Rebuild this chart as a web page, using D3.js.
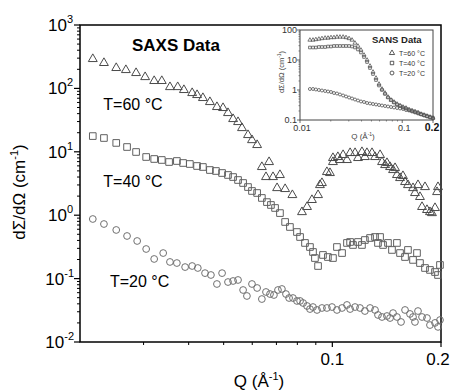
<!DOCTYPE html>
<html>
<head>
<meta charset="utf-8">
<script src="https://cdn.jsdelivr.net/npm/d3@7"></script>
<style>
  body { margin: 0; background: #fff; }
  svg { display: block; font-family: "Liberation Sans", Arial, sans-serif; }
</style>
</head>
<body>
<svg id="chart" width="452" height="390"></svg>
<script>
// SAXS data: [Q (1/A), dSigma/dOmega (1/cm)]
const saxs60 = [
  [0.0217,291],[0.0233,252],[0.0252,210],[0.0268,195],[0.0286,175],[0.0303,151],[0.0321,131],[0.0337,131],
  [0.0355,105],[0.0373,105],[0.0388,94.4],[0.0409,84.6],[0.0422,78.7],[0.0438,70.6],[0.0458,61.0],[0.0479,50.9],
  [0.0498,49.1],[0.0514,40.9],[0.0531,32.9],[0.0548,29.5],[0.0562,23.7],[0.0584,18.4],[0.0599,15.3],[0.0619,12.8],
  [0.0638,5.76],[0.0668,6.90],[0.0655,4.00],[0.0685,4.00],[0.0716,4.31],[0.0703,2.68],[0.0740,2.59],[0.0775,2.08],
  [0.0824,1.12],[0.0851,1.35],[0.0878,1.74],[0.0913,2.08],[0.0924,2.99],[0.0936,3.22],[0.0966,4.80],[0.0985,4.63],
  [0.1004,6.90],[0.1004,7.99],[0.1036,8.28],[0.1050,7.43],[0.1071,8.91],[0.1098,7.43],[0.1120,9.58],[0.1156,9.58],
  [0.1178,7.99],[0.1208,9.93],[0.1231,8.28],[0.1247,9.58],[0.1288,9.58],[0.1313,8.28],[0.1356,8.91],[0.1373,6.90],
  [0.1400,6.19],[0.1417,6.66],[0.1445,5.76],[0.1473,5.16],[0.1492,5.55],[0.1510,4.31],[0.1540,3.86],[0.1569,4.15],
  [0.1590,3.34],[0.1620,2.99],[0.1673,2.68],[0.1694,2.24],[0.1727,2.99],[0.1749,1.94],[0.1772,1.35],[0.1806,2.78],
  [0.1829,1.21],[0.1864,1.12],[0.1888,1.08],[0.1925,1.30],[0.1950,2.32],[0.1962,2.78]
];
const saxs40 = [
  [0.0217,17.7],[0.0233,16.5],[0.0252,13.8],[0.0270,11.9],[0.0286,9.93],[0.0305,8.28],[0.0321,7.70],[0.0337,7.43],
  [0.0353,6.90],[0.0371,7.16],[0.0386,6.66],[0.0403,6.42],[0.0422,5.97],[0.0438,5.76],[0.0458,5.16],[0.0476,4.98],
  [0.0495,4.63],[0.0514,4.31],[0.0531,4.00],[0.0548,3.59],[0.0566,3.22],[0.0584,2.78],[0.0599,2.41],[0.0619,2.24],
  [0.0638,1.87],[0.0659,1.61],[0.0676,1.45],[0.0694,1.30],[0.0716,1.08],[0.0740,0.782],[0.0763,0.652],[0.0798,0.543],
  [0.0814,0.453],[0.0840,0.365],[0.0867,0.315],[0.0884,0.263],[0.0895,0.211],[0.0913,0.158],[0.0942,0.236],[0.0972,0.219],
  [0.1004,0.211],[0.1030,0.315],[0.1064,0.253],[0.1098,0.365],[0.1120,0.378],[0.1141,0.339],[0.1178,0.378],[0.1208,0.339],
  [0.1231,0.406],[0.1272,0.437],[0.1313,0.453],[0.1338,0.365],[0.1356,0.453],[0.1382,0.339],[0.1426,0.365],[0.1463,0.283],
  [0.1510,0.365],[0.1540,0.253],[0.1590,0.219],[0.1620,0.283],[0.1673,0.197],[0.1716,0.253],[0.1749,0.176],[0.1806,0.147],
  [0.1864,0.137],[0.1925,0.127],[0.1962,0.114],[0.1987,0.164]
];
const saxs20 = [
  [0.0217,0.871],[0.0233,0.726],[0.0252,0.585],[0.0270,0.470],[0.0288,0.392],[0.0305,0.293],[0.0321,0.204],[0.0340,0.253],
  [0.0355,0.183],[0.0371,0.176],[0.0391,0.152],[0.0409,0.158],[0.0424,0.147],[0.0444,0.122],[0.0461,0.114],[0.0479,0.0822],
  [0.0495,0.122],[0.0514,0.0883],[0.0531,0.0917],[0.0548,0.0951],[0.0566,0.0661],[0.0580,0.0532],[0.0599,0.0822],[0.0619,0.0711],
  [0.0638,0.0476],[0.0655,0.0615],[0.0672,0.0571],[0.0689,0.0551],[0.0707,0.0661],[0.0725,0.0686],[0.0744,0.0571],[0.0759,0.0494],
  [0.0778,0.0494],[0.0798,0.0444],[0.0814,0.0444],[0.0830,0.0412],[0.0851,0.0370],[0.0867,0.0331],[0.0884,0.0356],[0.0907,0.0320],
  [0.0936,0.0344],[0.0966,0.0344],[0.0998,0.0356],[0.1030,0.0320],[0.1064,0.0344],[0.1098,0.0384],[0.1120,0.0331],[0.1156,0.0356],
  [0.1193,0.0344],[0.1231,0.0308],[0.1272,0.0344],[0.1313,0.0320],[0.1338,0.0267],[0.1373,0.0248],[0.1417,0.0257],[0.1445,0.0239],
  [0.1473,0.0286],[0.1510,0.0248],[0.1550,0.0207],[0.1590,0.0320],[0.1641,0.0277],[0.1673,0.0248],[0.1694,0.0207],[0.1727,0.0308],
  [0.1772,0.0248],[0.1829,0.0239],[0.1864,0.0185],[0.1925,0.0200],[0.1962,0.0173],[0.1987,0.0222]
];

// SANS data (inset)
const sansQ = [0.0125,0.0134,0.0143,0.0153,0.0164,0.0176,0.0188,0.0201,0.0215,0.0230,0.0246,0.0264,0.0282,0.0302,
  0.0323,0.0345,0.0369,0.0395,0.0423,0.0453,0.0484,0.0518,0.0554,0.0593,0.0634,0.0679,0.0726,0.0777,0.0831,0.0890,
  0.0952,0.1018,0.1089,0.1166,0.1247,0.1334,0.1428,0.1528,0.1634,0.1748,0.1871,0.200];
const sans60 = [46.4,46.4,48.2,50.1,52.1,54.1,54.1,56.2,56.2,58.5,58.5,58.5,56.2,52.1,46.4,36.8,29.2,21.5,14.7,10,
  6.31,3.98,2.51,1.58,1.08,0.794,0.585,0.464,0.398,0.341,0.304,0.271,0.251,0.224,0.207,0.192,0.178,0.158,0.147,0.136,0.126,0.117];
const sans40 = [26.1,26.1,26.1,27.1,27.1,27.1,28.2,28.2,29.3,29.3,29.3,29.3,29.3,29.3,28.2,26.1,22.4,17.8,12.6,8.58,
  5.41,3.41,2.15,1.41,1.0,0.736,0.562,0.464,0.383,0.329,0.293,0.261,0.242,0.215,0.2,0.185,0.171,0.158,0.147,0.136,0.126,0.117];
const sans20 = [1.08,1.08,1.04,1.0,0.962,0.926,0.891,0.858,0.794,0.764,0.708,0.656,0.607,0.562,0.521,0.482,0.447,0.414,
  0.398,0.369,0.355,0.341,0.329,0.316,0.304,0.293,0.282,0.271,0.261,0.251,0.242,0.233,0.215,0.207,0.192,0.178,0.165,0.153,
  0.141,0.131,0.121,0.112];

const yPowers = [-2, -1, 0, 1, 2, 3];
const xLabels = [0.1, 0.2];
const xMinor = [0.03, 0.04, 0.05, 0.06, 0.07, 0.08, 0.09];
const curveLabels = [
  { text: "T=60 °C", q: 0.0232, i: 45.6 },
  { text: "T=40 °C", q: 0.0232, i: 2.79 },
  { text: "T=20 °C", q: 0.0242, i: 0.0738 }
];
const legendItems = ["T=60 °C", "T=40 °C", "T=20 °C"];

const svg = d3.select("#chart");
const fontMain = 17;

// Main scales
const x = d3.scaleLog().domain([0.02, 0.2]).range([80, 441]);
const y = d3.scaleLog().domain([0.01, 1000]).range([342, 25]);

// y ticks
const yMinor = [];
yPowers.slice(0, -1).forEach(p => { for (let k = 2; k <= 9; k++) yMinor.push(k * Math.pow(10, p)); });

const gy = svg.append("g");
gy.selectAll("line.maj").data(yPowers).enter().append("line")
  .attr("x1", 80).attr("x2", 74).attr("y1", d => y(Math.pow(10, d))).attr("y2", d => y(Math.pow(10, d)))
  .attr("stroke", "#000").attr("stroke-width", 1.2);
gy.selectAll("line.min").data(yMinor).enter().append("line")
  .attr("x1", 80).attr("x2", 77).attr("y1", d => y(d)).attr("y2", d => y(d))
  .attr("stroke", "#000").attr("stroke-width", 1);
gy.selectAll("text").data(yPowers).enter().append("text")
  .attr("y", d => y(Math.pow(10, d)) + 6)
  .attr("text-anchor", "end").style("font-size", fontMain + "px")
  .each(function(d) {
    const t = d3.select(this);
    t.append("tspan").text("10");
    t.append("tspan").attr("dy", -8).style("font-size", "11px").text(d);
  })
  .attr("x", d => d < 0 ? 74 : 73);

// x ticks
const gx = svg.append("g");
gx.selectAll("line.min").data(xMinor).enter().append("line")
  .attr("x1", d => x(d)).attr("x2", d => x(d)).attr("y1", 342).attr("y2", 345)
  .attr("stroke", "#000").attr("stroke-width", 1);
gx.selectAll("line.maj").data(xLabels).enter().append("line")
  .attr("x1", d => x(d)).attr("x2", d => x(d)).attr("y1", 342).attr("y2", 347)
  .attr("stroke", "#000").attr("stroke-width", 1.2);
gx.selectAll("text").data(xLabels).enter().append("text")
  .attr("x", d => x(d) - (d === 0.2 ? 3 : 0)).attr("y", 365)
  .attr("text-anchor", "middle").style("font-size", fontMain + "px")
  .text(d => d);

// frame
svg.append("rect").attr("x", 80).attr("y", 25).attr("width", 361).attr("height", 317)
  .attr("fill", "none").attr("stroke", "#000").attr("stroke-width", 1.5);

// axis titles
const yt = svg.append("text").attr("transform", "translate(25,192) rotate(-90)")
  .attr("text-anchor", "middle").style("font-size", fontMain + "px");
yt.append("tspan").text("dΣ/dΩ (cm");
yt.append("tspan").attr("dy", -7).style("font-size", "11px").text("-1");
yt.append("tspan").attr("dy", 7).text(")");

const xt = svg.append("text").attr("x", 259).attr("y", 387)
  .attr("text-anchor", "middle").style("font-size", fontMain + "px");
xt.append("tspan").text("Q (Å");
xt.append("tspan").attr("dy", -7).style("font-size", "11px").text("-1");
xt.append("tspan").attr("dy", 7).text(")");

// markers
const tri = d3.symbol().type(d3.symbolTriangle).size(34);
const sq = d3.symbol().type(d3.symbolSquare).size(44);
const circ = d3.symbol().type(d3.symbolCircle).size(36);

function drawSeries(g, data, sym, color, sx, sy, width) {
  g.selectAll(null).data(data).enter().append("path")
    .attr("d", sym)
    .attr("transform", d => `translate(${sx(d[0])},${sy(d[1])})`)
    .attr("fill", "none").attr("stroke", color).attr("stroke-width", width);
}
const gm = svg.append("g");
drawSeries(gm, saxs20, circ, "#707070", x, y, 1);
drawSeries(gm, saxs40, sq, "#606060", x, y, 1);
drawSeries(gm, saxs60, tri, "#4a4a4a", x, y, 1);

// labels
svg.append("text").attr("x", 132).attr("y", 51).style("font-size", "17px").style("font-weight", "bold").text("SAXS Data");
svg.selectAll("text.curve").data(curveLabels).enter().append("text")
  .attr("class", "curve").attr("x", d => x(d.q)).attr("y", d => y(d.i))
  .style("font-size", "16px").text(d => d.text);

// ---------- inset ----------
const ix = d3.scaleLog().domain([0.01, 0.2]).range([300, 433]);
const iy = d3.scaleLog().domain([0.1, 100]).range([120, 30]);
const gi = svg.append("g");
gi.append("rect").attr("x", 300).attr("y", 30).attr("width", 133).attr("height", 90)
  .attr("fill", "#fff").attr("stroke", "#444").attr("stroke-width", 1);

const iyMaj = [0.1, 1, 10, 100];
const iyMin = [];
[0.1, 1, 10].forEach(p => { for (let k = 2; k <= 9; k++) iyMin.push(k * p); });
gi.selectAll("line.iymin").data(iyMin).enter().append("line")
  .attr("x1", 300).attr("x2", 298.5).attr("y1", d => iy(d)).attr("y2", d => iy(d))
  .attr("stroke", "#555").attr("stroke-width", 0.7);
gi.selectAll("line.iymaj").data(iyMaj).enter().append("line")
  .attr("x1", 300).attr("x2", 297).attr("y1", d => iy(d)).attr("y2", d => iy(d))
  .attr("stroke", "#444").attr("stroke-width", 0.8);
gi.selectAll("text.iyl").data(iyMaj).enter().append("text")
  .attr("x", 297).attr("y", d => iy(d) + 3).attr("text-anchor", "end")
  .style("font-size", "9px").attr("fill", "#333").text(d => d);

const ixMaj = [0.01, 0.1, 0.2];
const ixMin = [0.02, 0.03, 0.04, 0.05, 0.06, 0.07, 0.08, 0.09];
gi.selectAll("line.ixmin").data(ixMin).enter().append("line")
  .attr("x1", d => ix(d)).attr("x2", d => ix(d)).attr("y1", 120).attr("y2", 121.5)
  .attr("stroke", "#555").attr("stroke-width", 0.7);
gi.selectAll("line.ixmaj").data(ixMaj).enter().append("line")
  .attr("x1", d => ix(d)).attr("x2", d => ix(d)).attr("y1", 120).attr("y2", 123)
  .attr("stroke", "#444").attr("stroke-width", 0.8);
gi.selectAll("text.ixl").data(ixMaj).enter().append("text")
  .attr("x", d => ix(d) + (d === 0.2 ? -1 : 2)).attr("y", 131).attr("text-anchor", "middle")
  .style("font-size", d => d === 0.2 ? "10.5px" : "9px")
  .style("font-weight", d => d === 0.2 ? "bold" : "normal")
  .attr("fill", d => d === 0.2 ? "#111" : "#333").text(d => d);

const iyt = gi.append("text").attr("transform", "translate(284,72) rotate(-90)")
  .attr("text-anchor", "middle").style("font-size", "7.5px").attr("fill", "#444");
iyt.append("tspan").text("dΣ/dΩ (cm");
iyt.append("tspan").attr("dy", -3).style("font-size", "5px").text("-1");
iyt.append("tspan").attr("dy", 3).text(")");
const ixt = gi.append("text").attr("x", 363).attr("y", 139)
  .attr("text-anchor", "middle").style("font-size", "8px").attr("fill", "#444");
ixt.append("tspan").text("Q (Å");
ixt.append("tspan").attr("dy", -3).style("font-size", "5px").text("-1");
ixt.append("tspan").attr("dy", 3).text(")");

const itri = d3.symbol().type(d3.symbolTriangle).size(7);
const isq = d3.symbol().type(d3.symbolSquare).size(7);
const icirc = d3.symbol().type(d3.symbolCircle).size(7);
drawSeries(gi, sansQ.map((q, i) => [q, sans20[i]]), icirc, "#555", ix, iy, 0.8);
drawSeries(gi, sansQ.map((q, i) => [q, sans40[i]]), isq, "#555", ix, iy, 0.8);
drawSeries(gi, sansQ.map((q, i) => [q, sans60[i]]), itri, "#555", ix, iy, 0.8);

gi.append("text").attr("x", 372).attr("y", 43).style("font-size", "9.5px").style("font-weight", "bold")
  .attr("fill", "#222").text("SANS Data");
const leg = gi.selectAll("g.leg").data(legendItems).enter().append("g")
  .attr("transform", (d, i) => `translate(392,${53 + i * 10})`);
leg.append("path").attr("d", (d, i) => d3.symbol().type([d3.symbolTriangle, d3.symbolSquare, d3.symbolCircle][i]).size(12)())
  .attr("fill", "none").attr("stroke", "#333").attr("stroke-width", 0.8);
leg.append("text").attr("x", 7).attr("y", 2.5).style("font-size", "7px").attr("fill", "#333").text(d => d);
</script>
</body>
</html>
